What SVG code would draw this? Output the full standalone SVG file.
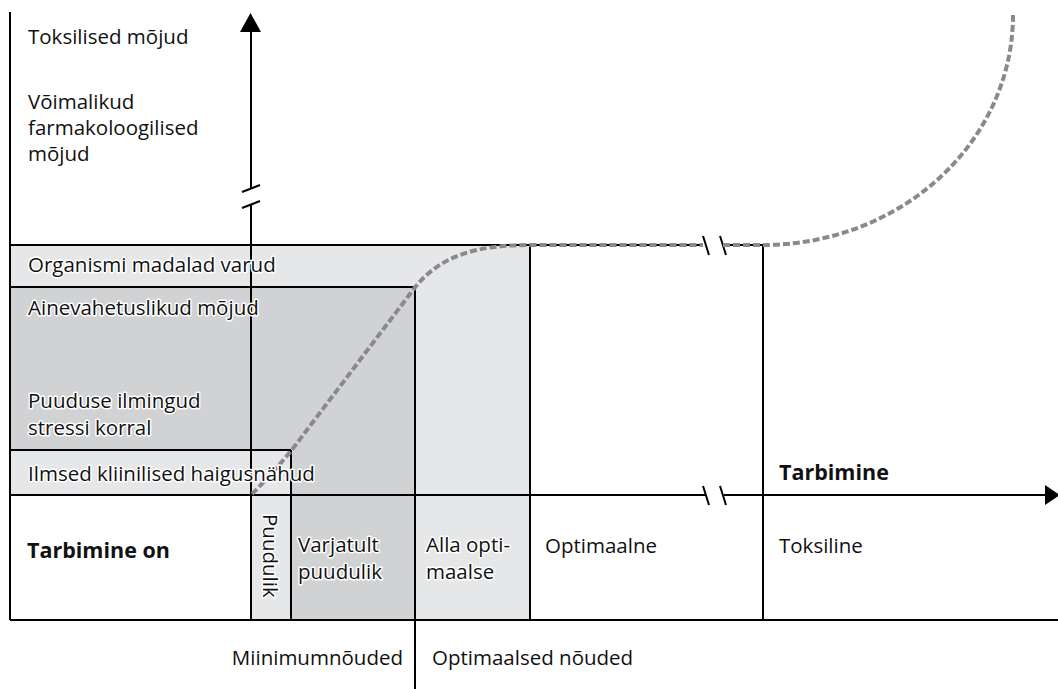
<svg xmlns="http://www.w3.org/2000/svg" width="1058" height="689" viewBox="0 0 1058 689">
<style>
text{font-family:"Open Sans","Noto Sans",sans-serif;font-size:20.5px;fill:#111}
.b{font-weight:bold;font-size:21.5px}
.halo{paint-order:stroke;stroke:#fff;stroke-width:3px;stroke-linejoin:round}
.ln{stroke:#000;stroke-width:2;fill:none}
.curve{stroke:#8a8a8d;stroke-width:4;fill:none;stroke-dasharray:7 3}
.light{fill:#e6e7e8}
.mid{fill:#d1d2d4}
</style>
<rect width="1058" height="689" fill="#fff"/>
<g id="fills">
<rect class="light" x="10" y="245" width="520" height="250"/>
<rect class="light" x="415" y="495" width="115" height="125"/>
<rect class="light" x="251" y="495" width="40" height="125"/>
<rect class="mid" x="10" y="287" width="405" height="163"/>
<rect class="mid" x="291" y="450" width="124" height="170"/>
</g>
<g id="connectors">
<line class="ln" x1="10" y1="12" x2="10" y2="620"/>
<line class="ln" x1="10" y1="620" x2="1058" y2="620"/>
<line class="ln" x1="10" y1="245" x2="703" y2="245"/>
<line class="ln" x1="723" y1="245" x2="763" y2="245"/>
<line class="ln" x1="10" y1="287" x2="415" y2="287"/>
<line class="ln" x1="10" y1="450" x2="291" y2="450"/>
<line class="ln" x1="10" y1="495" x2="705" y2="495"/>
<line class="ln" x1="724" y1="495" x2="1046" y2="495"/>
<polygon points="1045,485 1060,495 1045,505" fill="#000"/>
<line class="ln" x1="251" y1="30" x2="251" y2="189"/>
<line class="ln" x1="251" y1="204" x2="251" y2="620"/>
<polygon points="240,32 250.5,13 261,32" fill="#000"/>
<line class="ln" x1="242" y1="192" x2="260" y2="185"/>
<line class="ln" x1="242" y1="208" x2="260" y2="201"/>
<line class="ln" x1="703" y1="236" x2="709" y2="255"/>
<line class="ln" x1="720" y1="236" x2="726" y2="255"/>
<line class="ln" x1="703" y1="486" x2="709" y2="505"/>
<line class="ln" x1="720" y1="486" x2="726" y2="505"/>
<line class="ln" x1="291" y1="450" x2="291" y2="620"/>
<line class="ln" x1="415" y1="287" x2="415" y2="689"/>
<line class="ln" x1="530" y1="245" x2="530" y2="620"/>
<line class="ln" x1="763" y1="245" x2="763" y2="620"/>
<path class="curve" d="M252,494 Q272,474 291,451 L413,290 C440,254 480,245 530,245 L703,245 M723,245 L763,245 A250,230 0 0 0 1013,14"/>
</g>
<g id="labels-y">
<text x="28" y="44">Toksilised mõjud</text>
<text x="28" y="109">Võimalikud<tspan x="28" dy="26">farmakoloogilised</tspan><tspan x="28" dy="26">mõjud</tspan></text>
</g>
<g id="bands">
<text class="halo" x="28" y="272">Organismi madalad varud</text>
<text class="halo" x="28" y="315">Ainevahetuslikud mõjud</text>
<text class="halo" x="28" y="408">Puuduse ilmingud<tspan x="28" dy="27">stressi korral</tspan></text>
<text class="halo" x="28" y="481">Ilmsed kliinilised haigusnähud</text>
</g>
<g id="columns">
<text class="b" x="27" y="558">Tarbimine on</text>
<text class="halo" transform="translate(263,514) rotate(90)">Puudulik</text>
<text class="halo" x="298" y="552">Varjatult<tspan x="298" dy="26.5">puudulik</tspan></text>
<text class="halo" x="426" y="552">Alla opti-<tspan x="426" dy="26.5">maalse</tspan></text>
<text x="545" y="553">Optimaalne</text>
<text x="779" y="553">Toksiline</text>
<text class="b" x="779" y="480">Tarbimine</text>
</g>
<g id="bottom">
<text x="403" y="665" text-anchor="end">Miinimumnõuded</text>
<text x="432" y="665">Optimaalsed nõuded</text>
</g>
</svg>
